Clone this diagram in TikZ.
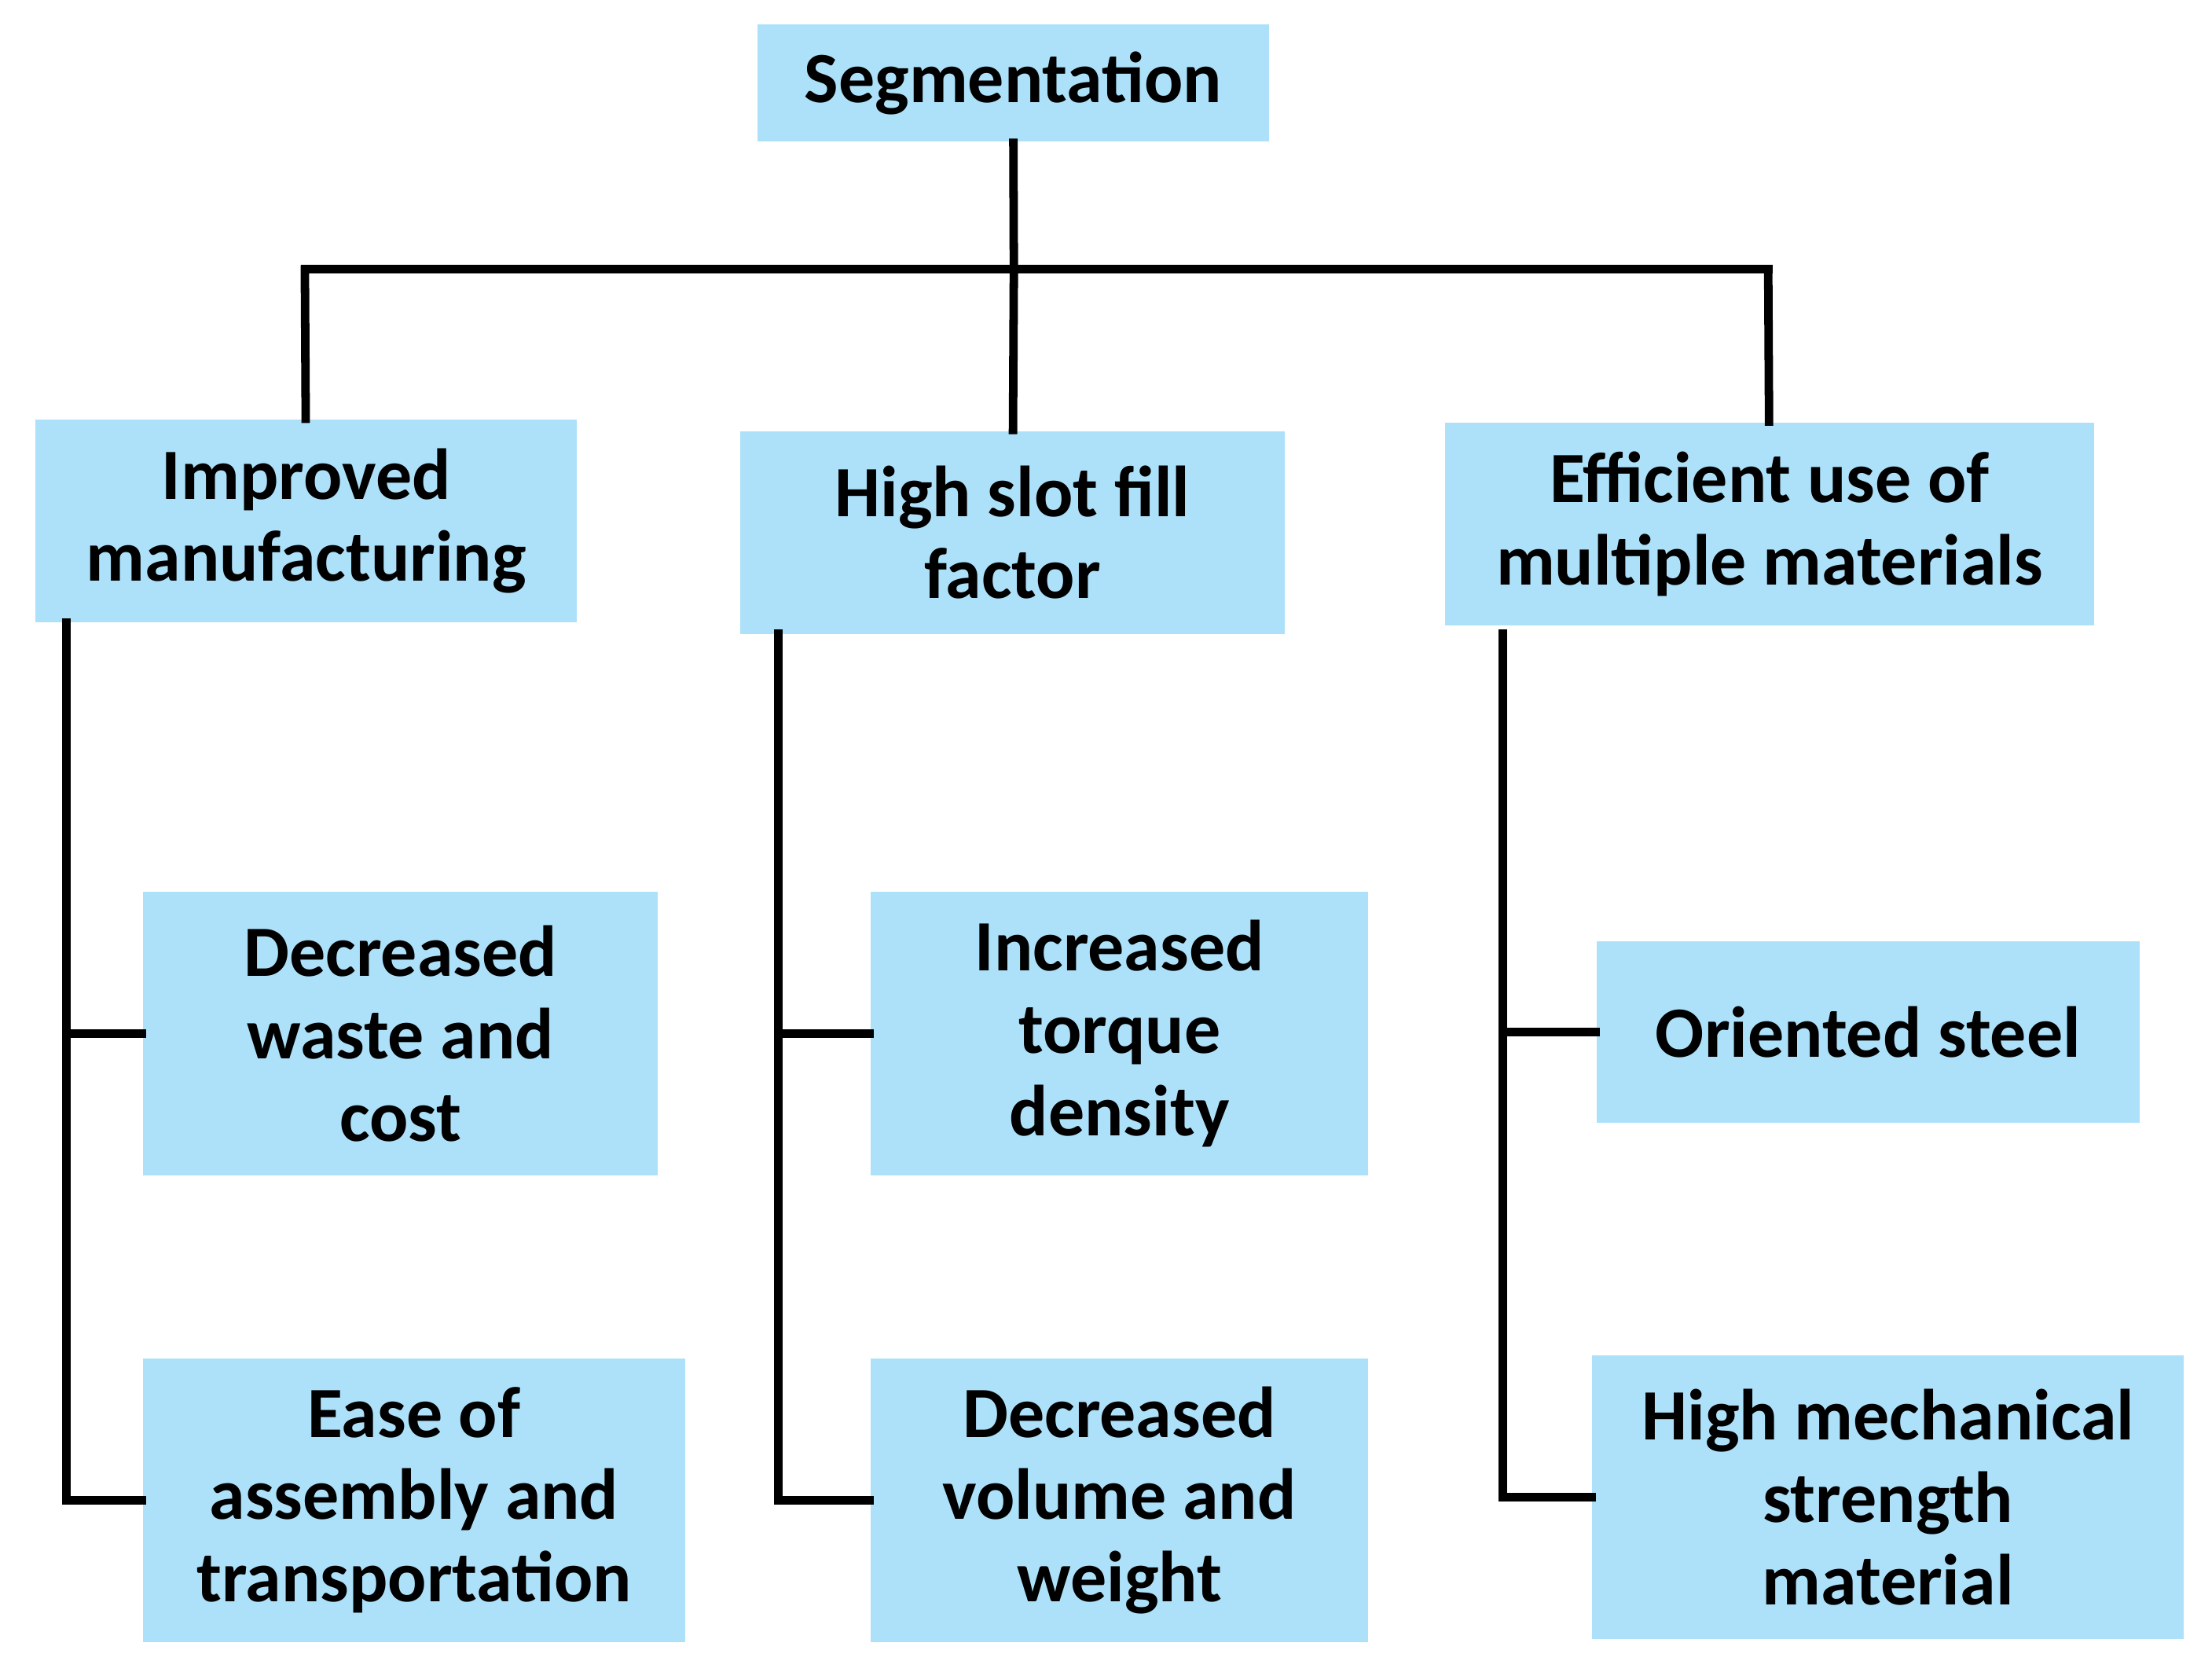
\documentclass[tikz,border=0pt]{standalone}
\usepackage{fontspec}
\setmainfont{Carlito}
\usetikzlibrary{positioning}
\definecolor{boxblue}{HTML}{ADE1FA}
\tikzset{
  box/.style={fill=boxblue, align=center, inner sep=0pt,
    font=\bfseries\fontsize{14.5}{16.5}\selectfont},
  link/.style={line width=1.7pt, line cap=rect}
}
\begin{document}
\begin{tikzpicture}
\useasboundingbox (0,0) rectangle (15.6,-11.715);
%%% boxes
\node[box, minimum width=3.61cm, minimum height=0.83cm] (seg) at (7.145,-0.585) {Segmentation};

\node[box, minimum width=3.82cm, minimum height=1.43cm] (imp) at (2.16,-3.675) {Improved\\manufacturing};
\node[box, minimum width=3.84cm, minimum height=1.43cm] (slot) at (7.14,-3.755) {High slot fill\\factor};
\node[box, minimum width=4.58cm, minimum height=1.43cm] (eff) at (12.48,-3.695) {Efficient use of\\multiple materials};

\node[box, minimum width=3.63cm, minimum height=2.0cm] (waste) at (2.825,-7.29) {Decreased\\waste and\\cost};
\node[box, minimum width=3.82cm, minimum height=2.0cm] (ease) at (2.92,-10.58) {Ease of\\assembly and\\transportation};
\node[box, minimum width=3.51cm, minimum height=2.0cm] (torque) at (7.895,-7.29) {Increased\\torque\\density};
\node[box, minimum width=3.51cm, minimum height=2.0cm] (vol) at (7.895,-10.58) {Decreased\\volume and\\weight};
\node[box, minimum width=3.83cm, minimum height=1.28cm] (steel) at (13.175,-7.28) {Oriented steel};
\node[box, minimum width=4.17cm, minimum height=2.0cm] (mech) at (13.315,-10.56) {High mechanical\\strength\\material};

%%% junctions
\coordinate (top) at (7.15,-1.9);
\coordinate (topL) at (2.15,-1.9);
\coordinate (topR) at (12.47,-1.9);
\coordinate (impL) at (0.47,-4.39);
\coordinate (slotL) at (5.49,-4.47);
\coordinate (effL) at (10.6,-4.47);

% top tree
\draw[link] (seg) -- (top);
\draw[link] (topL) -- (topR);
\draw[link] (topL) -- (imp);
\draw[link] (top) -- (slot);
\draw[link] (topR) -- (eff);

% branches
\draw[link] (impL) |- (ease);
\draw[link] (impL |- waste) -- (waste);
\draw[link] (slotL) |- (vol);
\draw[link] (slotL |- torque) -- (torque);
\draw[link] (effL) |- (mech);
\draw[link] (effL |- steel) -- (steel);
\end{tikzpicture}
\end{document}
